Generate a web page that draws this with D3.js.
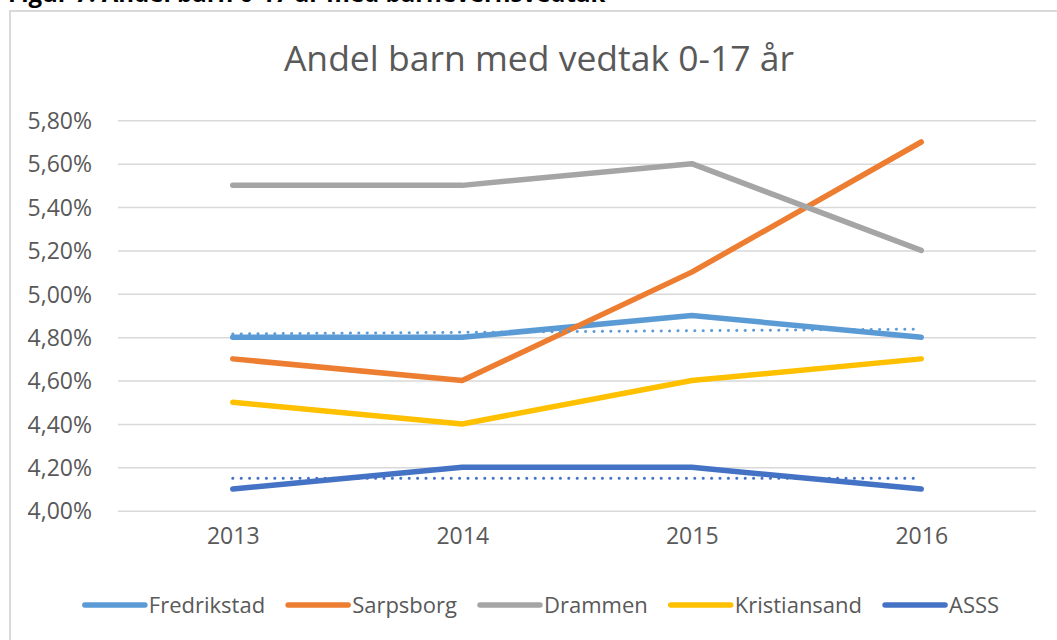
<!DOCTYPE html>
<html>
<head>
<meta charset="utf-8">
<script src="https://cdn.jsdelivr.net/npm/d3@7"></script>
<style>
  body { margin: 0; background: #fff; }
  svg { display: block; font-family: "Open Sans", sans-serif; }
</style>
</head>
<body>
<svg id="chart" width="1057" height="640"></svg>
<script>
// data (percent)
let years = ["2013", "2014", "2015", "2016"];
let fredrikstad = [4.8, 4.8, 4.9, 4.8];
let sarpsborg = [4.7, 4.6, 5.1, 5.7];
let drammen = [5.5, 5.5, 5.6, 5.2];
let kristiansand = [4.5, 4.4, 4.6, 4.7];
let asss = [4.1, 4.2, 4.2, 4.1];
// dotted trend lines, value at first and last year
let trendYears = ["2013", "2016"];
let fredrikstadTrend = [4.815, 4.837];
let asssTrend = [4.15, 4.15];
let yTicks = [4.0, 4.2, 4.4, 4.6, 4.8, 5.0, 5.2, 5.4, 5.6, 5.8];

let seriesNames = ["Fredrikstad", "Sarpsborg", "Drammen", "Kristiansand", "ASSS"];
let seriesValues = [fredrikstad, sarpsborg, drammen, kristiansand, asss];
let colors = ["#5B9BD5", "#ED7D31", "#A5A5A5", "#FFC000", "#4472C4"];

let svg = d3.select("svg#chart"),
  margin = { top: 120.3, right: 21, bottom: 129.3, left: 118 },
  width = +svg.attr("width") - margin.left - margin.right,
  height = +svg.attr("height") - margin.top - margin.bottom;

let textColor = "#595959";

// caption above the chart frame (cut off in the original)
svg.append("text")
  .attr("x", 8)
  .attr("y", 2)
  .style("font-weight", "bold")
  .style("font-size", "24px")
  .attr("fill", "#000")
  .text("Figur 7: Andel barn 0-17 år med barnevernsvedtak");

// chart frame
svg.append("rect")
  .attr("x", 10)
  .attr("y", 11)
  .attr("width", 1200)
  .attr("height", 800)
  .attr("fill", "none")
  .attr("stroke", "#d9d9d9")
  .attr("stroke-width", 2);

// title
svg.append("text")
  .attr("x", 539)
  .attr("y", 71)
  .attr("text-anchor", "middle")
  .attr("fill", textColor)
  .style("font-size", "35.5px")
  .text("Andel barn med vedtak 0-17 år");

let xScale = d3.scalePoint().domain(years).range([0, width]).padding(0.5),
  yScale = d3.scaleLinear().domain([4.0, 5.8]).range([height, 0]);

let g = svg
  .append("g")
  .attr("transform", "translate(" + margin.left + "," + margin.top + ")");

// grid
const yAxisGrid = d3.axisLeft(yScale).tickValues(yTicks).tickSize(-width).tickFormat("");
let grid = g.append("g").attr("class", "grid").call(yAxisGrid);
grid.select(".domain").remove();
grid.selectAll("line").attr("stroke", "#d9d9d9").attr("stroke-width", 1.5);

// y axis labels
let yAxis = g.append("g")
  .call(
    d3.axisLeft(yScale)
      .tickValues(yTicks)
      .tickSize(0)
      .tickPadding(26)
      .tickFormat((d) => d.toFixed(2).replace(".", ",") + "%")
  );
yAxis.select(".domain").remove();
yAxis.selectAll("text")
  .attr("fill", textColor)
  .style("font-size", "23px")
  .style("font-family", "'Open Sans', sans-serif")
  .attr("dy", "0.36em");

// x axis labels
let xAxis = g.append("g")
  .attr("transform", "translate(0," + height + ")")
  .call(d3.axisBottom(xScale).tickSize(0).tickPadding(26));
xAxis.select(".domain").remove();
xAxis.selectAll("text")
  .attr("fill", textColor)
  .style("font-size", "23px")
  .style("font-family", "'Open Sans', sans-serif")
  .attr("dy", "0.3em");

// lines
let line = d3.line()
  .x((d, i) => xScale(years[i]))
  .y((d) => yScale(d));

seriesValues.forEach(function (vals, k) {
  g.append("path")
    .datum(vals)
    .attr("fill", "none")
    .attr("stroke", colors[k])
    .attr("stroke-width", 5.5)
    .attr("stroke-linecap", "round")
    .attr("stroke-linejoin", "round")
    .attr("d", line);
});

// trend lines (dotted)
let trendLine = d3.line()
  .x((d, i) => xScale(trendYears[i]))
  .y((d) => yScale(d));

[[fredrikstadTrend, colors[0]], [asssTrend, colors[4]]].forEach(function (t) {
  g.append("path")
    .datum(t[0])
    .attr("fill", "none")
    .attr("stroke", t[1])
    .attr("stroke-width", 3)
    .attr("stroke-linecap", "round")
    .attr("stroke-dasharray", "0.1 8.3")
    .attr("d", trendLine);
});

// legend
let legend = svg.append("g");
let lx = 0;
seriesNames.forEach(function (name, k) {
  let item = legend.append("g").attr("transform", "translate(" + lx + ",0)");
  item.append("line")
    .attr("x1", 2).attr("x2", 62)
    .attr("y1", 0).attr("y2", 0)
    .attr("stroke", colors[k])
    .attr("stroke-width", 5.5)
    .attr("stroke-linecap", "round");
  let t = item.append("text")
    .attr("x", 66)
    .attr("y", 8)
    .attr("fill", textColor)
    .style("font-size", "22px")
    .text(name);
  lx += 66 + t.node().getComputedTextLength() + 21;
});
lx -= 21;
legend.attr("transform", "translate(" + (541 - lx / 2) + ",605)");
</script>
</body>
</html>
